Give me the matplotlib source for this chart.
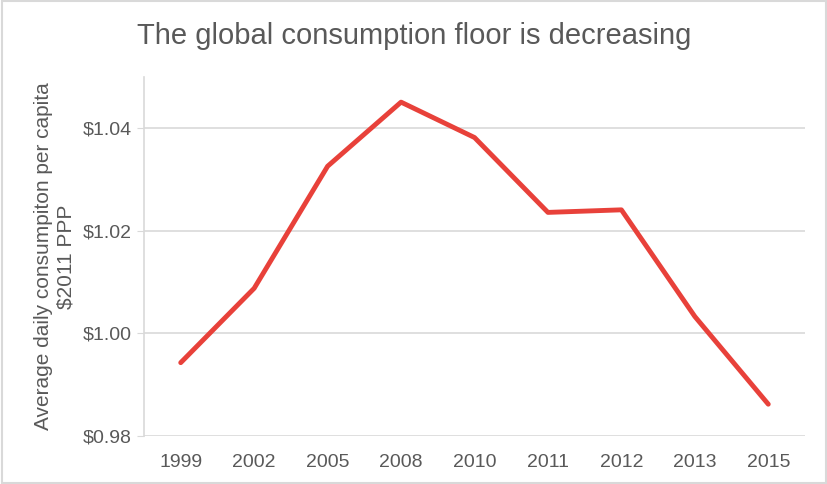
import numpy as np
import matplotlib.pyplot as plt
from matplotlib.patches import Rectangle

plt.rcParams['font.family'] = ['Liberation Sans', 'DejaVu Sans']

# data
years = ['1999', '2002', '2005', '2008', '2010', '2011', '2012', '2013', '2015']
consumption = [0.9943, 1.0088, 1.0326, 1.0451, 1.0382, 1.0236, 1.0241, 1.0033, 0.9862]
y_ticks = [0.98, 1.00, 1.02, 1.04]

fig = plt.figure(figsize=(8.28, 4.84), dpi=100)
ax = fig.add_axes([144 / 828, 1 - 436 / 484, 661 / 828, 359 / 484])

x = np.arange(len(years))
ax.plot(x, consumption, color='#e8413a', linewidth=3.5, solid_capstyle='round', zorder=3)

ax.set_xlim(-0.5, len(years) - 0.5)
ax.set_ylim(0.98, 1.05)
ax.set_xticks(x)
ax.set_xticklabels(years)
ax.set_yticks(y_ticks)
ax.set_yticklabels(['$%.2f' % v for v in y_ticks])

ax.grid(axis='y', color='#d9d9d9', linewidth=1.2)
ax.set_axisbelow(True)
for side in ['top', 'right', 'bottom']:
    ax.spines[side].set_visible(False)
ax.spines['left'].set_color('#d9d9d9')
ax.spines['left'].set_linewidth(1.2)
ax.tick_params(axis='y', length=5, color='#d9d9d9', labelsize=14, labelcolor='#595959', pad=4)
ax.tick_params(axis='x', length=0, labelsize=14, labelcolor='#595959', pad=13)

ax.set_ylabel('Average daily consumpiton per capita\n$2011 PPP', fontsize=15,
              color='#595959', labelpad=5, linespacing=1.2)

fig.text(0.5, 1 - 36 / 484, 'The global consumption floor is decreasing', ha='center',
         va='center', fontsize=21, color='#595959')

fig.patches.append(Rectangle((0.002, 0.003), 0.996, 0.994, transform=fig.transFigure,
                             fill=False, edgecolor='#d9d9d9', linewidth=1.5))

fig.savefig('out.png', dpi=100)
